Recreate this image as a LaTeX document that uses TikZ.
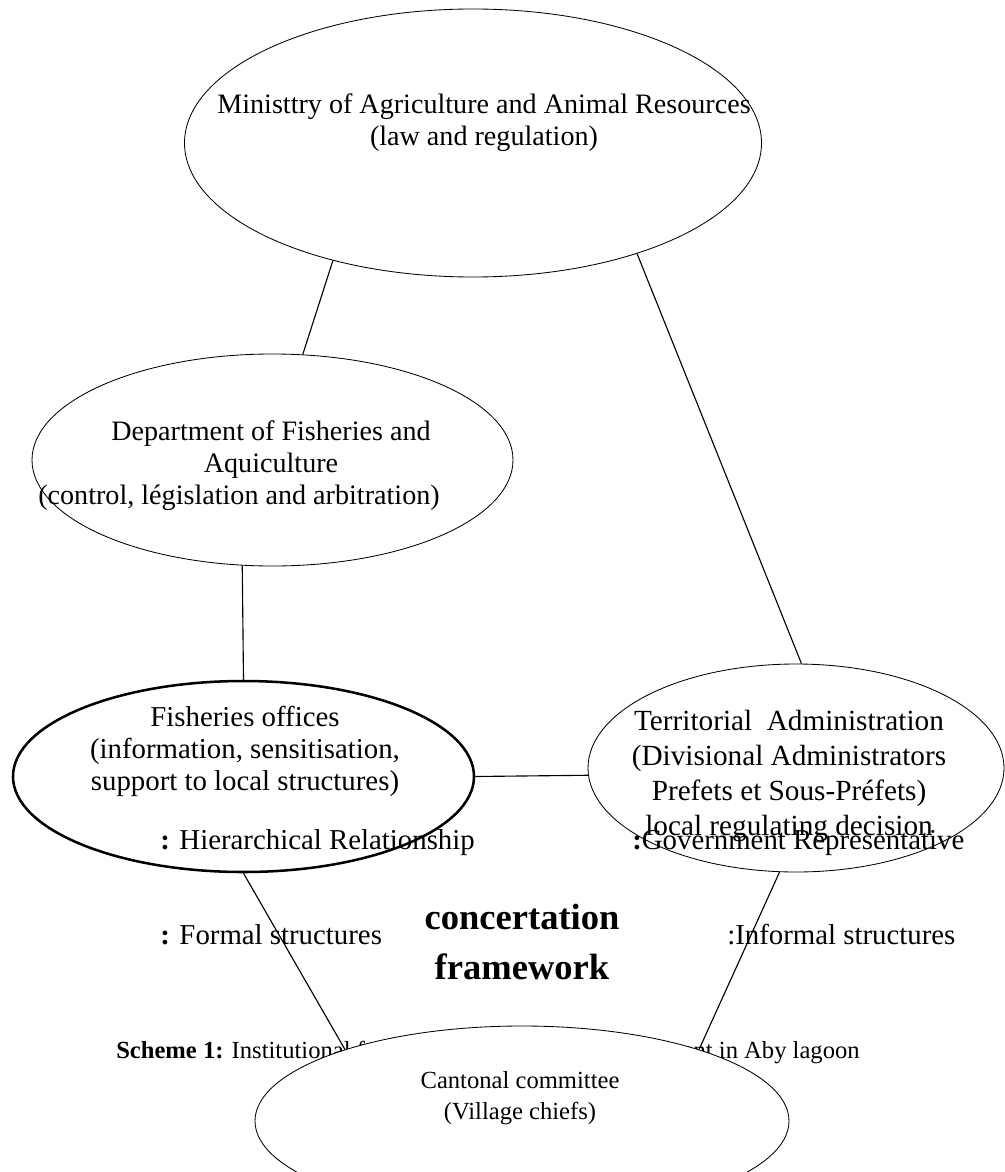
\documentclass[tikz,border=0pt]{standalone}
\usepackage{fontspec}
\setmainfont{Liberation Serif}
\usepackage{tikz}
\usetikzlibrary{shapes.geometric}
\newcommand{\boxfont}{\fontsize{20pt}{22.8pt}\selectfont}
\newcommand{\lblfont}{\fontsize{20.5pt}{22.8pt}\selectfont}
\newcommand{\terrfont}{\fontsize{20.8pt}{24.9pt}\selectfont}
\newcommand{\smallfont}{\fontsize{17.5pt}{22pt}\selectfont}
\newcommand{\bigbold}{\fontsize{26pt}{35.5pt}\selectfont\bfseries}
\tikzset{
  blob/.style={draw, ellipse, inner sep=0pt, line width=0.6pt},
  txt/.style={align=center, font=\boxfont, inner sep=0pt},
  lbl/.style={anchor=west, font=\lblfont, inner sep=0pt},
  link/.style={line width=0.8pt},
}
\begin{document}
\begin{tikzpicture}
  \useasboundingbox (0,0) rectangle (25.125,-29.3);
  \node[blob, minimum width=14.425cm, minimum height=6.7cm] (mini) at (11.825,-3.575) {};
  \node[txt] (minitxt) at (12.1,-3.075) {Ministtry of Agriculture and Animal Resources\\(law and regulation)};
  \node[blob, minimum width=12.025cm, minimum height=5.3cm] (dept) at (6.8125,-11.5) {};
  \node[txt] (depttxt) at (6.775,-11.65) {Department of Fisheries and\\Aquiculture\\(control, législation and arbitration)\hspace*{1.6cm}};
  \node[blob, line width=1.8pt, minimum width=11.525cm, minimum height=4.775cm] (fish) at (6.0875,-19.4125) {};
  \node[txt, font=\lblfont] (fishtxt) at (6.125,-18.775) {Fisheries offices\\(information, sensitisation,\\support to local structures)};
  \node[blob, minimum width=10.4cm, minimum height=5.2cm] (terr) at (19.9,-19.2) {};
  \node[txt, font=\terrfont] (terrtxt) at (19.725,-19.39) {Territorial\ \ Administration\\(Divisional Administrators\\Prefets et Sous-Préfets)\\local regulating decision};
  \node[lbl] (hier) at (4.0,-21.075) {\textbf{:} Hierarchical Relationship};
  \node[lbl] (gov) at (15.8,-21.075) {\textbf{:}Government Representative};
  \node[lbl] (formal) at (4.0,-23.375) {\textbf{:} Formal structures};
  \node[lbl] (informal) at (18.175,-23.375) {:Informal structures};
  \node[txt, font=\bigbold] (frame) at (13.05,-23.55) {concertation\\framework};
  \node[lbl, font=\smallfont] (scheme) at (2.9,-26.3) {\textbf{Scheme 1:} Institutional framework of fisheries management in Aby lagoon};
  \node[blob, fill=white, minimum width=13.35cm, minimum height=4.75cm] (cant) at (13.05,-28.025) {};
  \node[txt, font=\smallfont] (canttxt) at (13.0,-27.45) {Cantonal committee\\(Village chiefs)};
  \begin{scope}[link]
    \draw (mini.220.6) -- (dept.74.8);
    \draw (mini.326.4) -- (terr.87.8);
    \draw (dept.254.4) -- (fish.north);
    \draw (fish.east) -- (terr.182);
    \draw (fish.south) -- (cant.158);
    \draw (terr.261.3) -- (cant.22);
  \end{scope}
\end{tikzpicture}
\end{document}
